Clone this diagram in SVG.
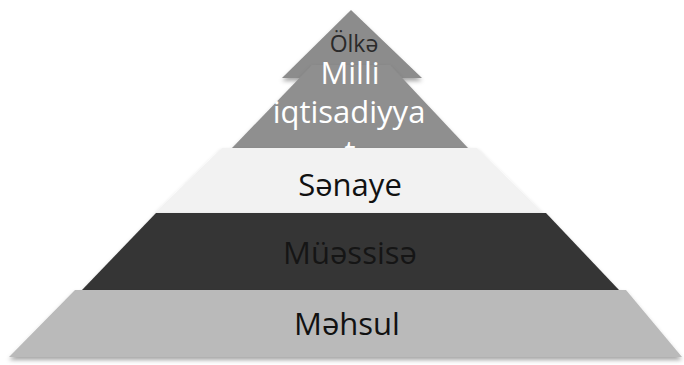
<svg xmlns="http://www.w3.org/2000/svg" width="684" height="365" viewBox="0 0 684 365">
<defs>
<filter id="sh" x="-10%" y="-10%" width="120%" height="130%">
<feDropShadow dx="0" dy="3" stdDeviation="2" flood-color="#000" flood-opacity="0.35"/>
</filter>
<clipPath id="clip2">
<polygon points="312,40 390,40 468,148 232,148"/>
</clipPath>
</defs>
<style>
text{font-family:"Open Sans","Noto Sans","DejaVu Sans",sans-serif;text-anchor:middle;}
.big{font-size:31px;}
</style>
<rect width="684" height="365" fill="#ffffff"/>
<g id="olke">
<polygon points="351,10 422,78 282,78" fill="#8c8c8c" filter="url(#sh)"/>
<text x="354" y="52" font-size="23" fill="#2a2a2a">Ölkə</text>
</g>
<g id="milli">
<polygon points="312,65 390,65 468,148 232,148" fill="#8f8f8f" filter="url(#sh)"/>
<text class="big" x="350" y="84" fill="#ffffff">Milli</text>
<text class="big" x="349" y="123" fill="#ffffff">iqtisadiyya</text>
<text class="big" x="350" y="163" fill="#ffffff" clip-path="url(#clip2)">t</text>
</g>
<g id="senaye">
<polygon points="222,148 477,148 543,213 155,213" fill="#f2f2f2" filter="url(#sh)"/>
<text class="big" x="350" y="196" fill="#111111">Sənaye</text>
</g>
<g id="muessise">
<polygon points="156,213 546,213 619,290 82,290" fill="#363636" filter="url(#sh)"/>
<text class="big" x="350" y="264" fill="#151515">Müəssisə</text>
</g>
<g id="mehsul">
<polygon points="75,290 626,290 682,357 9,357" fill="#bababa" filter="url(#sh)"/>
<text class="big" x="347" y="335" fill="#111111">Məhsul</text>
</g>
<g id="connectors"></g>
</svg>
